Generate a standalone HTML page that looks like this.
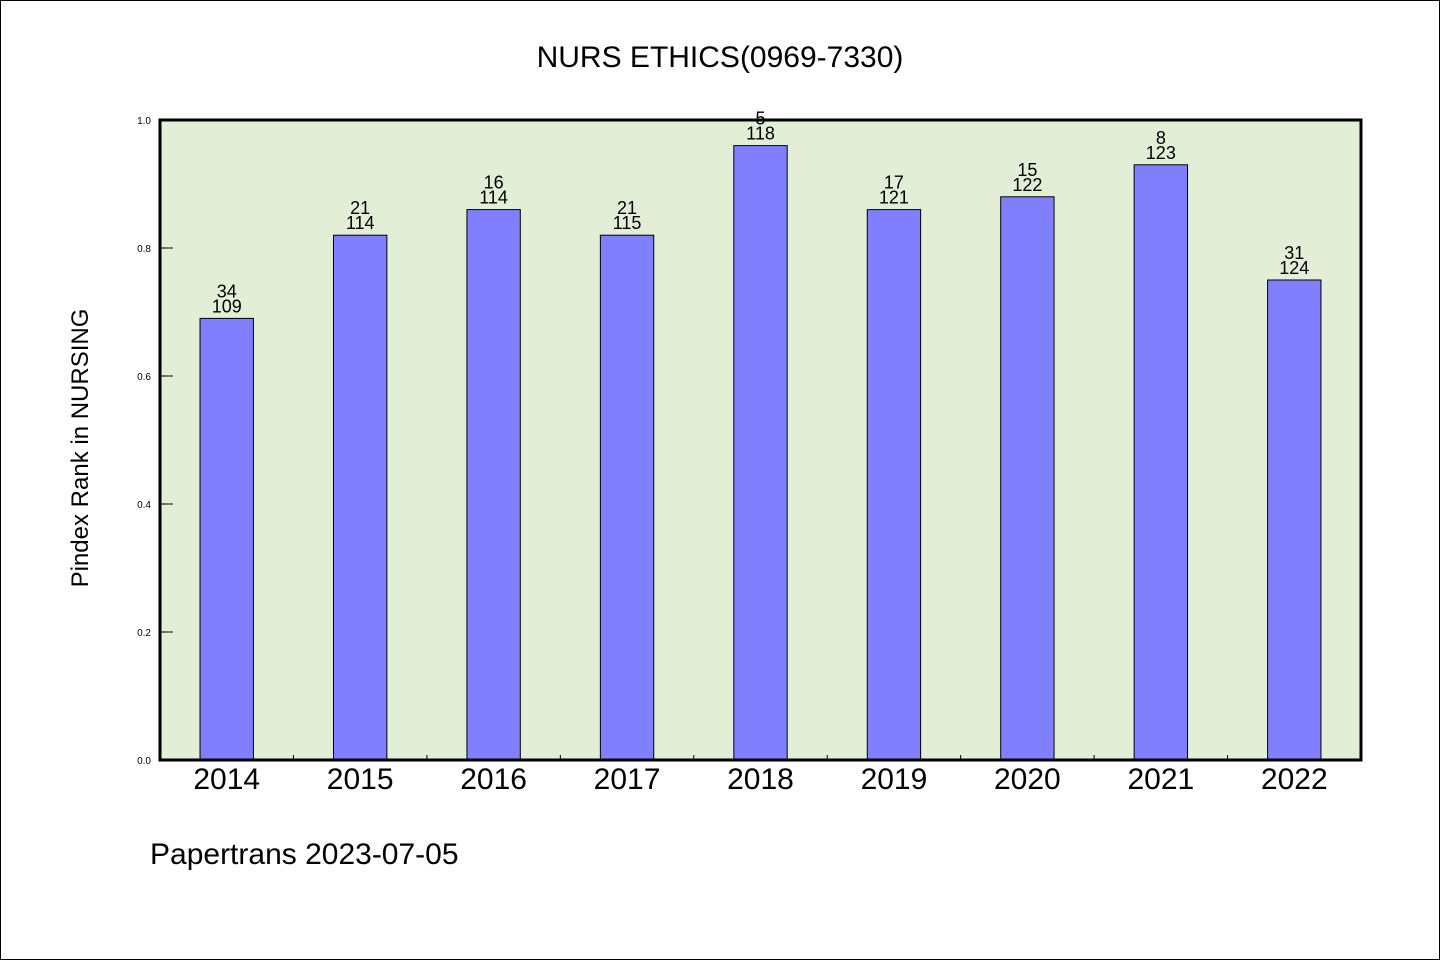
<!DOCTYPE html>
<html><head><meta charset="utf-8">
<style>
html,body{margin:0;padding:0;background:#fff}
svg{display:block}
text{font-family:"WenQuanYi Zen Hei","Liberation Sans",sans-serif;fill:#000}
</style></head>
<body>
<svg id="chart" width="1440" height="960" xmlns="http://www.w3.org/2000/svg">
<rect x="0.5" y="0.5" width="1439" height="959" fill="#fff" stroke="#000" stroke-width="1"/>
<text x="720" y="67" font-size="30" text-anchor="middle">NURS ETHICS(0969-7330)</text>
<rect x="160" y="120" width="1201" height="640" fill="#e2efd6"/>
<g id="bars"></g>
<g id="axes"></g>
<rect x="160" y="120" width="1201" height="640" fill="none" stroke="#000" stroke-width="3"/>
<text transform="translate(88,448) rotate(-90)" font-size="24" text-anchor="middle">Pindex Rank in NURSING</text>
<text x="150" y="864" font-size="30">Papertrans 2023-07-05</text>
</svg>
<script>
const categories=["2014","2015","2016","2017","2018","2019","2020","2021","2022"];
const values=[0.69,0.82,0.86,0.82,0.96,0.86,0.88,0.93,0.75];
const rankLabels=["34","21","16","21","5","17","15","8","31"];
const totalLabels=["109","114","114","115","118","121","122","123","124"];
const yTicks=[0,0.2,0.4,0.6,0.8,1.0];
const NS="http://www.w3.org/2000/svg";
const X0=160,X1=1361,Y0=760,Y1=120;
const slot=(X1-X0)/categories.length;
function xc(i){return X0+slot*(i+0.5);}
function y(v){return Y0-(Y0-Y1)*v;}
function mk(tag,attrs,txt){const e=document.createElementNS(NS,tag);for(const k in attrs)e.setAttribute(k,attrs[k]);if(txt!=null)e.textContent=txt;return e;}
const bars=document.getElementById('bars');
const axes=document.getElementById('axes');
const bw=slot*0.4;
categories.forEach((c,i)=>{
  const r=mk('rect',{x:xc(i)-bw/2,y:y(values[i]),width:bw,height:Y0-y(values[i]),fill:'#8080ff',stroke:'#000','stroke-width':1});
  
  
  bars.appendChild(r);
  const t1=mk('text',{x:xc(i),y:y(values[i])-21,'font-size':18,'text-anchor':'middle'},rankLabels[i]);
  
  
  bars.appendChild(t1);
  const t2=mk('text',{x:xc(i),y:y(values[i])-6,'font-size':18,'text-anchor':'middle'},totalLabels[i]);
  
  
  bars.appendChild(t2);
  const xl=mk('text',{x:xc(i),y:789,'font-size':30,'text-anchor':'middle'},c);
  
  
  axes.appendChild(xl);
  if(i>0){
    const tk=mk('line',{x1:X0+slot*i,x2:X0+slot*i,y1:Y0,y2:Y0-5,stroke:'#000','stroke-width':1});
    
    
    axes.appendChild(tk);
  }
});
yTicks.forEach(v=>{
  const tk=mk('line',{x1:X0,x2:X0+13,y1:y(v),y2:y(v),stroke:'#000','stroke-width':1});
  
  
  axes.appendChild(tk);
  const l=mk('text',{x:151,y:y(v)+4,'font-size':10,'text-anchor':'end'},v.toFixed(1));
  
  
  axes.appendChild(l);
});
</script>
</body></html>
